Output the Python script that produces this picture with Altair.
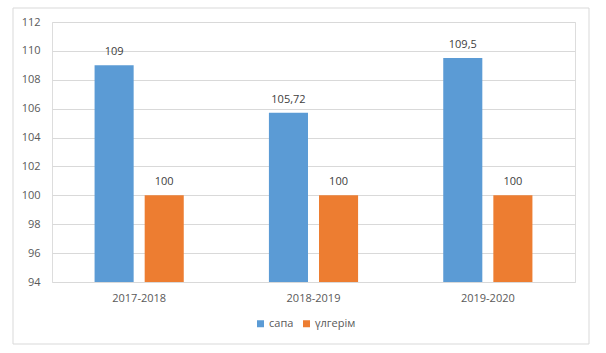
import altair as alt
import pandas as pd

years = ["2017-2018", "2018-2019", "2019-2020"]
series = ["сапа", "үлгерім"]
sapa = [109, 105.72, 109.5]
ulgerim = [100, 100, 100]
sapa_labels = ["109", "105,72", "109,5"]
ulgerim_labels = ["100", "100", "100"]

rows = []
for i, y in enumerate(years):
    rows.append({"year": y, "series": series[0], "value": sapa[i], "label": sapa_labels[i]})
    rows.append({"year": y, "series": series[1], "value": ulgerim[i], "label": ulgerim_labels[i]})
df = pd.DataFrame(rows)

FONT = "Open Sans"
GRAY = "#595959"

x = alt.X("year:N", sort=years, title=None,
          scale=alt.Scale(paddingInner=0, paddingOuter=0),
          axis=alt.Axis(labelAngle=0, ticks=False, domain=False, labelPadding=10, grid=False,
                        labelFont=FONT, labelFontSize=11, labelColor=GRAY))
xo = alt.XOffset("series:N", sort=series,
                 scale=alt.Scale(paddingInner=0.22, paddingOuter=0.85))
y = alt.Y("value:Q", title=None,
          scale=alt.Scale(domain=[94, 112], nice=False, zero=False),
          axis=alt.Axis(values=list(range(94, 113, 2)), ticks=False, domain=False,
                        labelPadding=12, gridColor="#d9d9d9",
                        labelFont=FONT, labelFontSize=11, labelColor=GRAY))
color = alt.Color("series:N", sort=series,
                  scale=alt.Scale(domain=series, range=["#5B9BD5", "#ED7D31"]),
                  legend=alt.Legend(title=None, orient="none", direction="horizontal",
                                    legendX=203, legendY=296, symbolType="square",
                                    symbolSize=49, symbolStrokeWidth=0,
                                    labelFont=FONT, labelFontSize=11, labelColor=GRAY,
                                    columnPadding=7, labelOffset=3))

base = alt.Chart(df)
bars = base.mark_bar().encode(x=x, xOffset=xo, y=y, y2=alt.datum(94), color=color)
text = base.mark_text(baseline="alphabetic", dy=-10, font=FONT, fontSize=11, color="#404040").encode(
    x=x, xOffset=xo, y=y, text="label:N")

one = pd.DataFrame({"a": [0]})
fs = {"stroke": "#d9d9d9", "strokeWidth": 1}
top = alt.Chart(one).mark_rule(**fs).encode(x=alt.value(-39), x2=alt.value(537), y=alt.value(-14))
bottom = alt.Chart(one).mark_rule(**fs).encode(x=alt.value(-39), x2=alt.value(537), y=alt.value(322))
left = alt.Chart(one).mark_rule(**fs).encode(x=alt.value(-39), y=alt.value(-14), y2=alt.value(322))
right = alt.Chart(one).mark_rule(**fs).encode(x=alt.value(537), y=alt.value(-14), y2=alt.value(322))

chart = alt.layer(top, bottom, left, right, bars, text).properties(
    width=523, height=260,
    autosize=alt.AutoSizeParams(type="none"),
    padding={"left": 52, "top": 22, "right": 31, "bottom": 71},
).configure_view(strokeWidth=0, stroke="transparent").configure(background="white")

chart.save("out.html", embed_options={"renderer": "svg", "actions": False})
